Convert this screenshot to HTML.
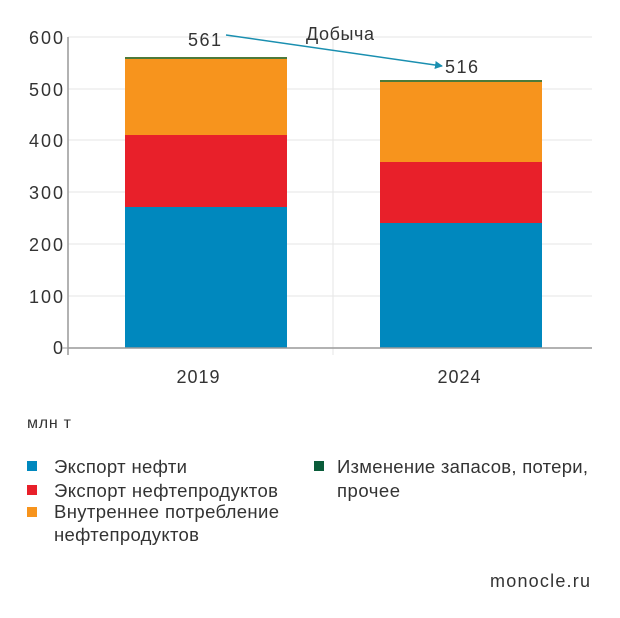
<!DOCTYPE html>
<html><head><meta charset="utf-8"><style>
html,body{margin:0;padding:0;background:#fff;}
svg{display:block;font-family:"Liberation Sans","DejaVu Sans",sans-serif;}
</style></head><body>
<svg width="620" height="618" viewBox="0 0 620 618" xmlns="http://www.w3.org/2000/svg">
<defs><marker id="ar" markerWidth="8" markerHeight="8" refX="7" refY="4" orient="auto" markerUnits="userSpaceOnUse"><path d="M0,0 L8,4 L0,8 z" fill="#1a8fb0"/></marker></defs>
<g stroke="#e6e6e6" stroke-width="1">
<line x1="68" y1="37" x2="592" y2="37"/><line x1="68" y1="89" x2="592" y2="89"/><line x1="68" y1="140" x2="592" y2="140"/><line x1="68" y1="192" x2="592" y2="192"/><line x1="68" y1="244" x2="592" y2="244"/><line x1="68" y1="296" x2="592" y2="296"/>
<line x1="333" y1="37" x2="333" y2="355"/>
</g>
<g fill="#333" font-size="18" text-anchor="end">
<text x="63" y="44" textLength="34">600</text><text x="63" y="96" textLength="34">500</text><text x="63" y="147" textLength="34">400</text><text x="63" y="199" textLength="34">300</text><text x="63" y="251" textLength="34">200</text><text x="63" y="303" textLength="34">100</text><text x="63" y="354">0</text>
</g>
<rect x="125" y="207" width="162" height="141" fill="#0088be"/>
<rect x="125" y="135" width="162" height="72" fill="#e8202a"/>
<rect x="125" y="59" width="162" height="76" fill="#f7941d"/>
<rect x="125" y="57" width="162" height="2" fill="#4e7a3a"/>
<rect x="380" y="223" width="162" height="125" fill="#0088be"/>
<rect x="380" y="162" width="162" height="61" fill="#e8202a"/>
<rect x="380" y="82" width="162" height="80" fill="#f7941d"/>
<rect x="380" y="80" width="162" height="2" fill="#4e7a3a"/>
<line x1="68" y1="348" x2="592" y2="348" stroke="#999" stroke-width="1.5"/>
<line x1="68" y1="37" x2="68" y2="355" stroke="#999" stroke-width="1.5"/>
<line x1="62" y1="348" x2="68" y2="348" stroke="#999"/>
<line x1="226" y1="35" x2="442" y2="66" stroke="#1a8fb0" stroke-width="1.5" marker-end="url(#ar)"/>
<g fill="#333" font-size="18">
<text x="188" y="46" textLength="33">561</text>
<text x="306" y="40" textLength="68">Добыча</text>
<text x="445" y="73" textLength="33">516</text>
<text x="198" y="383" text-anchor="middle" textLength="43">2019</text>
<text x="459" y="383" text-anchor="middle" textLength="43">2024</text>
<text x="27" y="428" font-size="16" textLength="44">млн т</text>
<text x="54" y="473" font-size="18.5" textLength="133">Экспорт нефти</text>
<text x="54" y="497" font-size="18.5" textLength="224">Экспорт нефтепродуктов</text>
<text x="54" y="518" font-size="18.5" textLength="225">Внутреннее потребление</text>
<text x="54" y="541" font-size="18.5" textLength="145">нефтепродуктов</text>
<text x="337" y="473" font-size="18.5" textLength="251">Изменение запасов, потери,</text>
<text x="337" y="497" font-size="18.5" textLength="63">прочее</text>
<text x="590" y="587" text-anchor="end" textLength="100">monocle.ru</text>
</g>
<rect x="27" y="461" width="10" height="10" fill="#0088be"/>
<rect x="27" y="485" width="10" height="10" fill="#e8202a"/>
<rect x="27" y="507" width="10" height="10" fill="#f7941d"/>
<rect x="314" y="461" width="10" height="10" fill="#0a5c3a"/>
</svg>
</body></html>
